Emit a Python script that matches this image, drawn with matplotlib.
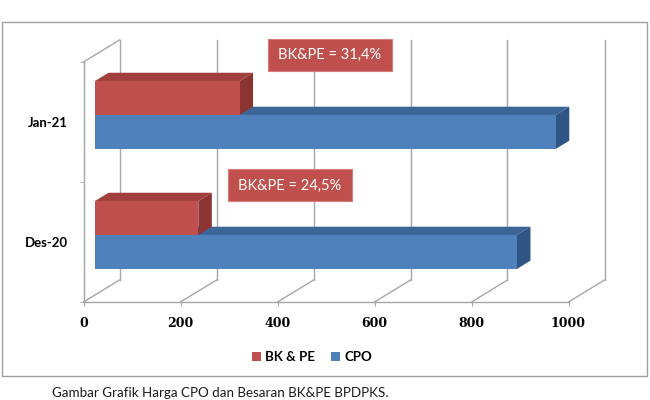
import matplotlib
matplotlib.use("Agg")
import matplotlib.pyplot as plt
from matplotlib.patches import Patch, Rectangle

# ---- data ----
categories = ["Des-20", "Jan-21"]
cpo = [870, 950]
bkpe = [213, 298]
annotations = ["BK&PE = 24,5%", "BK&PE = 31,4%"]
xticks = [0, 200, 400, 600, 800, 1000]

# ---- style ----
BLUE = ["#4F81BD", "#3B6596", "#2E5583"]   # front, top, side
RED = ["#C0504D", "#A23F3C", "#8C3431"]
GRID = "#A6A6A6"

W, H = 650, 400
fig = plt.figure(figsize=(6.5, 4.0), dpi=100)

# front plane of the 3D box in pixels
px_left, px_right, px_bottom, px_top = 83.5, 568.5, 302, 62
ax = fig.add_axes([px_left / W, 1 - px_bottom / H,
                   (px_right - px_left) / W, (px_bottom - px_top) / H])
ax.set_xlim(0, 1000)
ax.set_ylim(-0.5, 1.5)

# oblique depth offsets (data units)
DX = 36 / (px_right - px_left) * 1000
DY = 22 / ((px_bottom - px_top) / 2)

# walls / gridlines
for v in xticks:
    ax.plot([v + DX, v + DX], [-0.5 + DY, 1.5 + DY], color=GRID, lw=1,
            clip_on=False, zorder=1)
    ax.plot([v, v + DX], [-0.5, -0.5 + DY], color=GRID, lw=1,
            clip_on=False, zorder=1)
ax.plot([0, DX], [1.5, 1.5 + DY], color=GRID, lw=1, clip_on=False, zorder=1)

for s in ["top", "right"]:
    ax.spines[s].set_visible(False)
for s in ["left", "bottom"]:
    ax.spines[s].set_color(GRID)
    ax.spines[s].set_linewidth(1)
ax.patch.set_alpha(0)

# bars
f1, f2 = 0.32, 0.695
bh = 0.283


def bar3d(value, y0, y1, cols, z):
    xa, ya = f1 * DX, f1 * DY
    xb, yb = f2 * DX, f2 * DY
    # top face
    ax.fill([xa, value + xa, value + xb, xb],
            [y1 + ya, y1 + ya, y1 + yb, y1 + yb],
            color=cols[1], lw=0, zorder=z, clip_on=False)
    # side face
    ax.fill([value + xa, value + xb, value + xb, value + xa],
            [y0 + ya, y0 + yb, y1 + yb, y1 + ya],
            color=cols[2], lw=0, zorder=z, clip_on=False)
    # front face
    ax.fill([xa, value + xa, value + xa, xa],
            [y0 + ya, y0 + ya, y1 + ya, y1 + ya],
            color=cols[0], lw=0, zorder=z + 0.1, clip_on=False)


for i, c in enumerate(categories):
    bar3d(cpo[i], i - bh, i, BLUE, 3)
    bar3d(bkpe[i], i, i + bh, RED, 4)

# annotation boxes
ann_pos = [(425, 0.471), (508, 1.558)]
box_w = 124 / (px_right - px_left) * 1000
box_h = 32 / ((px_bottom - px_top) / 2)
for (cx, cy), txt in zip(ann_pos, annotations):
    ax.add_patch(Rectangle((cx - box_w / 2, cy - box_h / 2), box_w, box_h,
                           facecolor=RED[0], edgecolor="#D77C7A", lw=0.8,
                           zorder=6, clip_on=False))
    ax.text(cx, cy, txt, ha="center", va="center", color="white",
            fontsize=10.5, family="Lato", zorder=7)

# ticks
ax.set_xticks(xticks)
ax.set_xticklabels([str(t) for t in xticks], family="DejaVu Serif",
                   fontweight="bold", fontsize=9)
ax.tick_params(axis="x", length=3, color=GRID, pad=8)
ax.set_yticks([0, 1])
ax.set_yticklabels(categories, family="Lato", fontweight="bold", fontsize=9.5)
ax.tick_params(axis="y", which="major", length=0, pad=11)
ax.set_yticks([-0.5, 0.5, 1.5], minor=True)
ax.tick_params(axis="y", which="minor", length=3, color=GRID)

# legend
handles = [Patch(facecolor=RED[0], label="BK & PE"),
           Patch(facecolor=BLUE[0], label="CPO")]
fig.legend(handles=handles, loc="center", ncol=2,
           bbox_to_anchor=(312 / W, 1 - 357 / H), frameon=False,
           prop={"family": "Lato", "weight": "bold", "size": 9.5},
           handlelength=0.7, handleheight=0.7, handletextpad=0.3,
           columnspacing=1.2)

# outer chart border
fig.add_artist(Rectangle((1.5 / W, 1 - 376 / H), 645.5 / W, 354 / H,
                         transform=fig.transFigure, fill=False,
                         edgecolor="#A0A0A0", lw=1))

# caption
fig.text(52 / W, 1 - 393 / H,
         "Gambar Grafik Harga CPO dan Besaran BK&PE BPDPKS.",
         ha="left", va="center", fontsize=9.6, family="Lato", color="#1a1a1a")

fig.savefig("out.png", dpi=100)
